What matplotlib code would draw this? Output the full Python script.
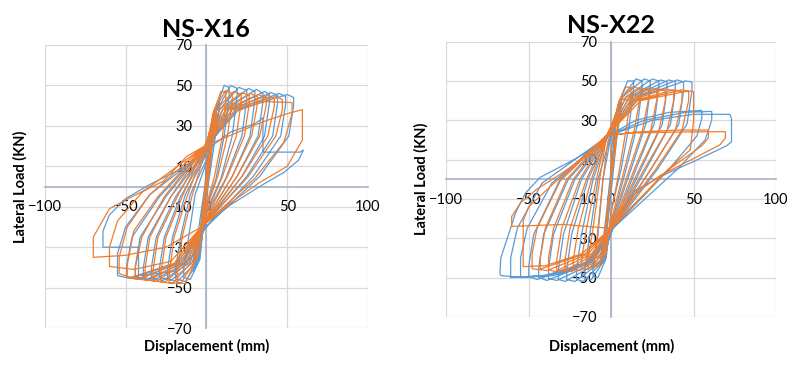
import matplotlib
matplotlib.use("Agg")
import matplotlib.pyplot as plt

plt.rcParams['font.family'] = ['Lato', 'DejaVu Sans']

# hysteresis paths, one list of (displacement, load) per cycle
x16_blue = [
    [(0, 0), (1.5, 12), (3, 20), (3, 18), (1.5, 8), (0, 0), (-1.5, -12), (-3, -20), (-3, -18), (-1.5, -8), (0, 0)],
    [(0, 4), (3, 24), (5, 32), (5, 29), (3, 16), (0, -4), (-3, -24), (-5, -32), (-5, -29), (-3, -16), (0, 4)],
    [(0, 10), (4, 32), (8, 42), (8, 39), (5, 22), (1, 0), (0, -10), (-4, -32), (-8, -42), (-8, -39), (-5, -22), (-1, 0), (0, 10)],
    [(1, 12), (5, 36), (11, 50), (14, 49), (14, 45), (11, 25), (6, 4), (-1, -12), (-4, -36), (-10, -46), (-14, -45), (-14, -40), (-11, -25), (-7, -4), (1, 14)],
    [(1, 14), (6, 37), (15, 50), (19, 48.5), (19, 44.5), (16, 25), (9, 4), (-1, -14), (-5, -37), (-13, -47), (-19, -45.5), (-19, -40.5), (-16, -25), (-10, -4), (1, 15)],
    [(1, 15), (8, 38), (20, 49), (25, 47.5), (25, 43.5), (22, 25), (12, 4), (-1, -15), (-7, -38), (-18, -47), (-24, -45.5), (-24, -40.5), (-21, -25), (-13, -4), (0, 16)],
    [(0, 16), (10, 38), (26, 48.5), (30, 47), (30, 43), (27, 25), (16, 5), (0, -16), (-9, -38), (-22, -46.5), (-29, -45), (-29, -40), (-26, -25), (-16, -5), (0, 17)],
    [(0, 17), (12, 38), (31, 48), (35, 46), (35, 42), (32, 25), (19, 5), (0, -17), (-11, -38), (-27, -46.5), (-34, -45), (-34, -40), (-31, -25), (-19, -5), (0, 18)],
    [(0, 18), (14, 38), (36, 47), (39, 45.5), (39, 41.5), (36, 25), (22, 5), (0, -18), (-13, -38), (-32, -46), (-39, -45), (-39, -40), (-36, -25), (-22, -5), (0, 18)],
    [(0, 18), (16, 38), (40, 46.5), (44, 45), (44, 41), (41, 25), (25, 5), (0, -18), (-15, -38), (-37, -46), (-44, -44.5), (-44, -39.5), (-41, -25), (-25, -5), (-1, 19)],
    [(-1, 19), (18, 38), (45, 46), (49, 44.5), (49, 40.5), (46, 25), (29, 5), (1, -19), (-17, -38), (-42, -45.5), (-49.5, -44.5), (-49.5, -39.5), (-46, -25), (-29, -5), (-1, 19)],
    [(-1, 19), (20, 38), (50, 45.5), (54, 44), (54, 40), (51, 25), (33, 5), (1, -19), (-19, -38), (-47, -45.5), (-55, -44), (-55, -33), (-50, -20), (-35, -4), (0, 18)],
    [(0, 18), (15, 27), (30, 31), (35, 34), (35, 17), (58, 17), (60, 18), (57, 13), (48, 7), (35, 1), (15, -9), (0, -18),
     (-8, -34), (-20, -42), (-42, -44), (-42, -30), (-64, -30), (-64, -22), (-60, -14), (-50, -6), (-35, 1), (-15, 9), (0, 18)],
]

x16_orange = [
    [(0, 0), (1.5, 13), (3, 21), (3, 19), (1.5, 9), (0, 0), (-1.5, -13), (-3, -21), (-3, -19), (-1.5, -9), (0, 0)],
    [(0, 5), (3, 26), (6, 36), (6, 33), (3, 17), (0, -5), (-3, -26), (-6, -36), (-6, -33), (-3, -17), (0, 5)],
    [(0, 15), (4, 36), (9, 47), (12, 46.5), (12, 42), (10, 25), (5, 5), (-2, -15), (-7, -37), (-13, -48), (-18, -47.5), (-18, -43), (-15, -25), (-9, -5), (-1, 17)],
    [(-1, 17), (5, 38), (12, 47.5), (16, 46), (16, 42), (13, 25), (7, 5), (-3, -18), (-8, -38), (-16, -48), (-23, -47.5), (-23, -43), (-20, -25), (-12, -5), (-1, 19)],
    [(-1, 19), (6, 38), (17, 47), (21.5, 45.5), (21.5, 41.5), (18.5, 25), (10, 5), (-3, -19), (-10, -38), (-21, -48), (-28, -47), (-28, -42), (-25, -25), (-15, -5), (-1, 20)],
    [(-1, 20), (8, 38), (22, 46.5), (26.5, 45), (26.5, 41), (23.5, 25), (13, 5), (-3, -20), (-12, -38), (-26, -47.5), (-33, -46.5), (-33, -41.5), (-30, -25), (-18, -5), (-1, 20)],
    [(-1, 20), (10, 38), (27, 46), (31.5, 44.5), (31.5, 40.5), (28, 25), (16, 5), (-3, -20), (-14, -38), (-31, -47), (-38, -46), (-38, -41), (-35, -25), (-22, -5), (-1, 20)],
    [(-1, 20), (12, 38), (32, 45.5), (37, 44), (37, 40), (33, 25), (19, 5), (-3, -20), (-16, -38), (-36, -46.5), (-44, -45.5), (-44, -40), (-40, -25), (-26, -5), (-1, 20)],
    [(-1, 20), (14, 38), (38, 45), (42, 43.5), (42, 39.5), (38, 25), (22, 5), (-3, -20), (-18, -38), (-42, -46), (-49, -45), (-49, -39), (-45, -22), (-30, -5), (-1, 20)],
    [(-1, 20), (16, 38), (43, 44.5), (47, 43), (47, 38), (43, 25), (26, 5), (-3, -20), (-20, -38), (-47, -45), (-54, -43), (-54, -35), (-49, -20), (-35, -4), (-1, 20)],
    [(-1, 20), (18, 37), (35, 42), (53, 41.5), (53, 36), (48, 22), (30, 4), (-3, -20), (-22, -37), (-45, -41), (-60, -39.5), (-60, -30), (-55, -17), (-40, -3), (-1, 20)],
    [(-1, 20), (20, 27), (35, 32), (50, 36), (59.4, 38), (59.4, 23), (50, 10), (33, 2), (15, -8), (-3, -20),
     (-25, -30), (-50, -34), (-70, -35), (-70, -25), (-60, -11), (-46, -5), (-27, 2.5), (-12, 15), (-1, 20)],
]

x22_blue = [
    [(0, 0), (1.5, 15), (3, 24), (3, 22), (1.5, 10), (0, 0), (-1.5, -15), (-3, -26), (-3, -24), (-1.5, -10), (0, 0)],
    [(0, 6), (3, 30), (6, 40), (6, 37), (3, 18), (0, -6), (-3, -30), (-6, -42), (-6, -39), (-3, -18), (0, 6)],
    [(0, 15), (5, 40), (10, 50), (13.6, 50), (13.6, 46), (11, 28), (6, 5), (0, -16), (-3, -40), (-8, -50), (-11, -49.5), (-11, -45), (-8, -28), (-5, 0), (-1, 18)],
    [(-1, 18), (6, 41), (15, 51), (18.7, 50), (18.7, 46), (16, 28), (9, 5), (1, -20), (-4, -41), (-12, -51), (-16, -50.5), (-16, -46), (-13, -28), (-8, 0), (-1, 20)],
    [(-1, 20), (7, 42), (20, 51), (23.7, 50), (23.7, 46), (21, 28), (12, 5), (1, -22), (-5, -42), (-17, -52), (-21, -51), (-21, -46), (-18, -28), (-11, 0), (-2, 22)],
    [(-2, 22), (9, 42), (25, 51), (28.8, 50), (28.8, 46), (26, 28), (15, 5), (1, -25), (-6, -42), (-22, -52), (-27, -51), (-27, -46), (-24, -28), (-14, 0), (-2, 22)],
    [(-2, 22), (11, 42), (30, 50.5), (33.8, 49.5), (33.8, 45.5), (31, 28), (18, 5), (1, -25), (-7, -42), (-28, -52), (-32, -51), (-32, -46), (-29, -28), (-18, 0), (-2, 22)],
    [(-2, 22), (13, 42), (35, 50.5), (38.9, 49.5), (38.9, 45.5), (36, 28), (21, 5), (1, -25), (-9, -42), (-33, -51.5), (-38, -50.5), (-38, -45), (-35, -28), (-22, 0), (-2, 22)],
    [(-2, 22), (15, 42), (40, 50.5), (43.9, 49.5), (43.9, 45), (41, 28), (24, 5), (1, -25), (-11, -42), (-39, -51.5), (-44, -50), (-44, -45), (-41, -28), (-26, 0), (-2, 22)],
    [(-2, 22), (17, 42), (45, 50), (49, 49.5), (49, 45), (46, 28), (28, 5), (1, -25), (-13, -42), (-45, -51), (-50, -49.5), (-50, -44), (-47, -28), (-31, 0), (-2, 22)],
    [(-2, 22), (15, 30), (35, 34), (55, 35), (55, 31), (52, 22), (35, 5), (1, -25), (-12, -42), (-35, -49), (-55, -50), (-55, -40), (-51, -25), (-36, -2), (-2, 22)],
    [(-2, 22), (20, 30), (45, 34), (61, 34.5), (61, 30), (57, 20), (40, 5), (1, -25), (-14, -42), (-40, -49), (-61, -50), (-61, -40), (-57, -25), (-42, -2), (-2, 22)],
    [(-2, 22), (25, 30), (50, 33), (72, 33), (73, 31), (73, 19), (70, 17), (60, 13), (50, 9), (34, 3), (14, -6), (1, -25),
     (-15, -42), (-30, -48), (-55, -50), (-67, -49), (-67.5, -48), (-67, -40), (-63, -30), (-58, -17), (-52, -7), (-43, 1), (-27, 8), (-12, 15), (-2, 22)],
]

x22_orange = [
    [(0, 0), (2, 18), (4, 28), (4, 26), (2, 12), (0, 0), (-2, -18), (-4, -30), (-4, -28), (-2, -12), (0, 0)],
    [(0, 15), (4, 38), (9, 47), (12, 46.5), (12, 42), (9, 25), (5, 5), (0, -17), (-3, -37), (-7, -44), (-10, -44), (-10, -40), (-8, -25), (-5, 0), (-2, 19)],
    [(-2, 19), (5, 40), (13, 47), (17.6, 46), (17.6, 42), (14, 25), (8, 5), (0, -21), (-4, -38), (-10, -45), (-14, -45), (-14, -40), (-11, -25), (-7, 0), (-3, 21)],
    [(-3, 21), (6, 40), (18, 46.5), (22.7, 45.5), (22.7, 41), (19, 25), (11, 5), (0, -23), (-5, -38), (-14, -46), (-18, -45.5), (-18, -41), (-15, -25), (-9, 0), (-3, 22)],
    [(-3, 22), (8, 40), (23, 46.5), (27.8, 45.5), (27.8, 41), (24, 25), (14, 5), (0, -25), (-6, -38), (-19, -46.5), (-23, -46), (-23, -41), (-20, -25), (-12, 0), (-3, 22)],
    [(-3, 22), (10, 40), (28, 46), (32.9, 45), (32.9, 40), (29, 25), (17, 5), (0, -25), (-8, -38), (-24, -47), (-28, -46.5), (-28, -41), (-25, -25), (-15, 0), (-3, 22)],
    [(-3, 22), (12, 40), (33, 46), (37.9, 45), (37.9, 40), (34, 25), (20, 5), (0, -25), (-10, -38), (-29, -47), (-33, -46.5), (-33, -41), (-30, -25), (-19, 0), (-3, 22)],
    [(-3, 22), (14, 40), (38, 45.5), (43, 44.5), (43, 40), (39, 25), (24, 5), (0, -25), (-12, -38), (-34, -47), (-38, -46), (-38, -40), (-35, -25), (-23, 0), (-3, 22)],
    [(-3, 22), (16, 40), (43, 45.5), (47, 44.5), (47, 40), (43, 25), (27, 5), (0, -25), (-14, -38), (-39, -46.5), (-43, -46), (-43, -40), (-40, -25), (-27, 0), (-3, 22)],
    [(-3, 22), (18, 40), (47, 45), (50, 44.5), (50, 30), (48, 15), (32, 3), (0, -25), (-16, -38), (-44, -46), (-48, -45.5), (-48, -38), (-45, -25), (-31, -1), (-3, 22)],
    [(-3, 22), (15, 24), (40, 25), (59, 25), (59, 21), (55, 17), (35, 5), (0, -25), (-18, -38), (-40, -44), (-53.4, -44.5), (-53.4, -21), (-50, -14), (-36, -3), (-3, 22)],
    [(-3, 22), (10, 23.5), (40, 24), (69.3, 24.2), (69.3, 21), (66, 17.5), (50, 10.5), (30, 2), (10, -10), (0, -25),
     (-29, -23), (-60.4, -24), (-60.4, -19), (-55, -12), (-45, -5), (-30, 3), (-15, 12), (-3, 22)],
]

titles = ["NS-X16", "NS-X22"]
x_ticks = [-100, -50, 0, 50, 100]
y_ticks = [-70, -50, -30, -10, 10, 30, 50, 70]

blue = "#5B9BD5"
orange = "#ED7D31"
grid_c = "#D9D9D9"
axis_c = "#A3B1C2"

fig = plt.figure(figsize=(8, 3.65), dpi=100)
rects = [[0.056, 0.101, 0.404, 0.776], [0.558, 0.132, 0.412, 0.754]]
series = [(x16_blue, x16_orange), (x22_blue, x22_orange)]


def path(cycles):
    xs, ys = [], []
    for cyc in cycles:
        for x, y in cyc:
            xs.append(x)
            ys.append(y)
    return xs, ys


for i in range(2):
    ax = fig.add_axes(rects[i])
    ax.set_xlim(-100, 100)
    ax.set_ylim(-70, 70)
    for t in x_ticks:
        ax.axvline(t, color=grid_c, lw=0.9, zorder=0)
    for t in y_ticks:
        ax.axhline(t, color=grid_c, lw=0.9, zorder=0)

    for side in ['top', 'right']:
        ax.spines[side].set_visible(False)
    ax.spines['left'].set_position(('data', 0))
    ax.spines['bottom'].set_position(('data', 0))
    ax.spines['left'].set_color(axis_c)
    ax.spines['bottom'].set_color(axis_c)
    ax.spines['left'].set_linewidth(1.2)
    ax.spines['bottom'].set_linewidth(1.2)

    ax.set_xticks(x_ticks)
    ax.set_yticks(y_ticks)
    ax.tick_params(length=0, labelsize=10.5, colors='#000000')
    ax.tick_params(axis='x', pad=10)
    ax.tick_params(axis='y', pad=10)

    b, o = series[i]
    bx, by = path(b)
    ox, oy = path(o)
    ax.plot(bx, by, color=blue, lw=0.9, zorder=3)
    ax.plot(ox, oy, color=orange, lw=0.9, zorder=4)

    ax.set_title(titles[i], fontsize=18, fontweight='bold', pad=6)

    pos = ax.get_position()
    fig.text(pos.x0 + pos.width / 2, 0.052, "Displacement (mm)", ha='center', va='center',
             fontsize=10.5, fontweight='bold')
    fig.text(pos.x0 - 0.031, pos.y0 + pos.height / 2, "Lateral Load (KN)", ha='center', va='center',
             rotation=90, fontsize=10.5, fontweight='bold')

fig.savefig("out.png", dpi=100, facecolor='white')
